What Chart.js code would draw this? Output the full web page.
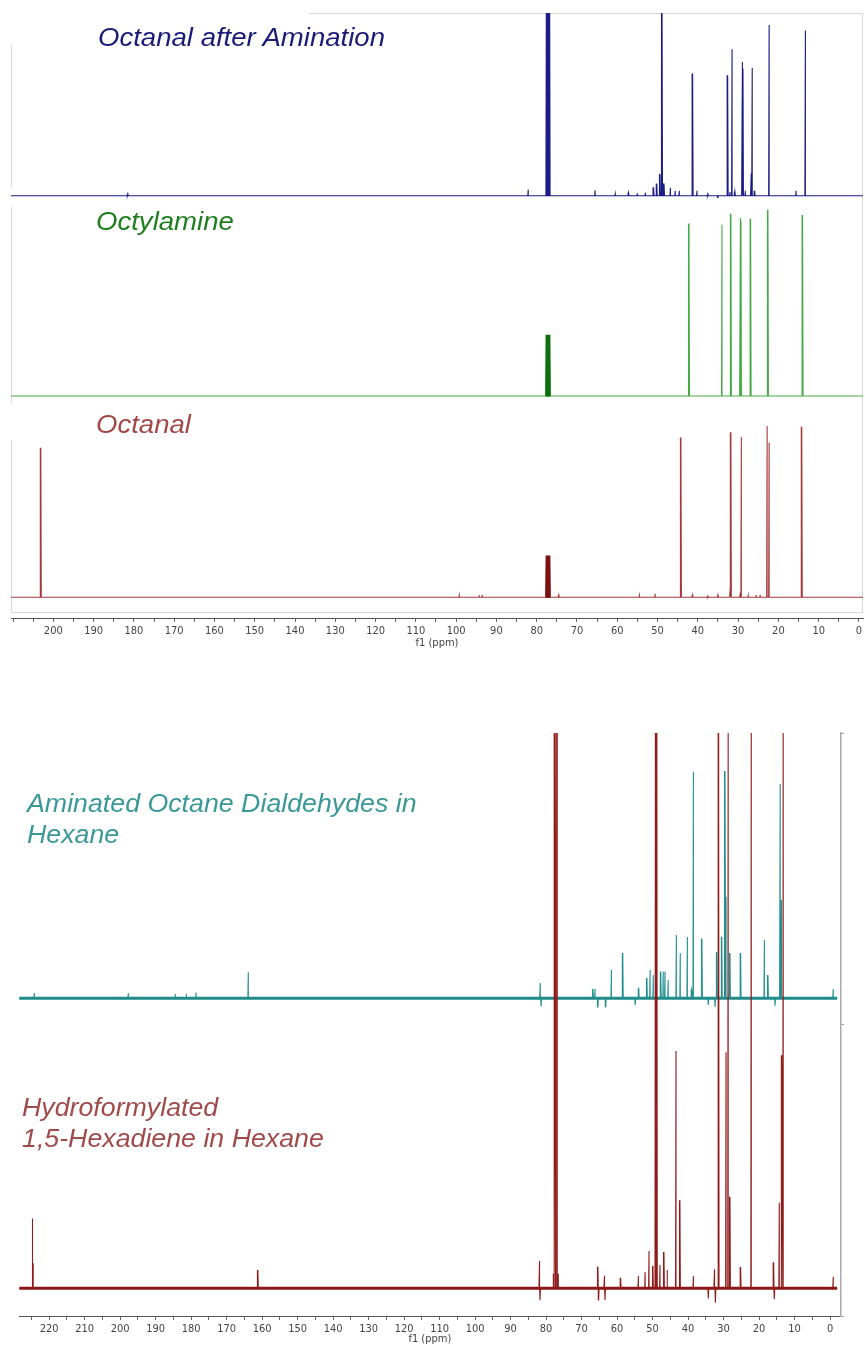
<!DOCTYPE html>
<html><head><meta charset="utf-8">
<script src="https://cdn.jsdelivr.net/npm/chart.js@4"></script>
<style>
html,body{margin:0;padding:0;background:#fff;}
body{width:865px;height:1346px;position:relative;overflow:hidden;}
canvas{position:absolute;left:0;}
.lbl{position:absolute;font-family:"Liberation Sans",Arial,sans-serif;font-style:italic;white-space:nowrap;transform-origin:0 0;line-height:1;}
.t{font-size:26px;transform:scaleX(1.06);}
.b{font-size:25px;transform:scaleX(1.07);}
</style></head><body>
<canvas id="topChart" width="865" height="650" style="top:0px"></canvas>
<canvas id="botChart" width="865" height="646" style="top:700px"></canvas>
<div class="lbl t" style="left:98px;top:23.7px;color:#1a1a78">Octanal after Amination</div>
<div class="lbl t" style="left:95.7px;top:208px;color:#1f7f1f">Octylamine</div>
<div class="lbl t" style="left:95.7px;top:410.7px;color:#a34747">Octanal</div>
<div class="lbl b" style="left:26.5px;top:790.5px;color:#3a9898">Aminated Octane Dialdehydes in</div>
<div class="lbl b" style="left:26.5px;top:822.1px;color:#3a9898">Hexane</div>
<div class="lbl b" style="left:22px;top:1094.8px;color:#a14a4a">Hydroformylated</div>
<div class="lbl b" style="left:22px;top:1126.1px;color:#a14a4a">1,5-Hexadiene in Hexane</div>
<script>
// ---- tick labels (ppm) ----
const topTickLabels = [200,190,180,170,160,150,140,130,120,110,100,90,80,70,60,50,40,30,20,10,0];
const botTickLabels = [220,210,200,190,180,170,160,150,140,130,120,110,100,90,80,70,60,50,40,30,20,10,0];

// ---- series: [ppm, intensity] ----
const octanalAfterAmination = [[181.5,0.3],[82.1,1.0],[77.6,36],[77.2,36],[76.8,36],[65.5,0.9],[60.5,0.3],[57.2,0.5],[55.0,0.4],[53.0,0.5],[51.0,1.4],[50.2,2.0],[49.4,3.6],[48.9,36],[48.4,2.0],[46.8,1.3],[45.6,0.8],[44.6,0.8],[41.3,20.2],[40.2,0.8],[37.5,0.3],[35.0,-0.3],[32.6,19.9],[32.0,0.6],[31.5,24.2],[30.8,0.7],[29.0,22.1],[28.8,21.0],[28.2,0.8],[26.8,3.7],[26.5,21.1],[25.9,0.8],[22.3,28.2],[15.6,0.8],[13.3,27.3]];
const octylamine = [[77.6,10.1],[77.2,10.1],[76.8,10.1],[42.2,28.5],[34.0,28.3],[31.8,30.1],[29.5,29.4],[29.3,29.0],[26.9,29.3],[22.6,30.8],[14.0,29.9]];
const octanal = [[203.1,24.7],[99.2,0.3],[94.2,0.4],[93.5,0.4],[77.6,6.9],[77.2,6.9],[76.8,6.9],[74.5,0.4],[54.5,0.3],[50.6,0.6],[44.2,26.4],[41.3,0.4],[37.5,0.2],[35.0,0.4],[32.0,1.8],[31.8,27.3],[29.5,0.8],[29.2,26.5],[27.5,0.3],[25.5,0.4],[24.5,0.4],[22.8,28.3],[22.3,25.6],[14.2,28.2]];
const aminatedDialdehydes = [[224.2,1.8],[197.7,1.8],[184.4,1.5],[181.3,1.5],[178.6,2.0],[163.9,9.0],[81.7,5.3],[81.4,-2.8],[66.8,3.2],[66.2,3.2],[65.4,-3.0],[63.2,-3.0],[61.6,9.8],[58.4,15.6],[54.9,-2.3],[53.9,3.6],[51.6,7.0],[50.7,9.8],[49.8,8.0],[47.7,9.2],[47.0,9.2],[46.5,9.2],[45.6,6.3],[43.3,21.8],[42.2,15.6],[40.2,21.1],[39.0,2.8],[38.5,78.1],[36.1,20.6],[34.3,-2.3],[32.4,-3.0],[31.9,16.0],[30.5,21.2],[29.6,78.4],[29.3,35.0],[28.2,15.6],[25.2,15.6],[18.5,20.1],[17.5,8.0],[15.5,-2.6],[14.1,73.9],[13.7,33.9],[-0.9,3.2]];
const hydroformylatedHexadiene = [[224.7,24.1],[224.5,8.6],[161.2,6.3],[81.9,9.4],[81.7,-4.1],[77.9,5],[77.6,200],[77.2,200],[76.8,200],[76.5,5],[65.4,7.4],[65.2,-4],[63.6,4.3],[63.4,-4],[59.0,3.6],[54.0,4.2],[52.1,5.6],[51.0,12.9],[49.9,7.7],[49.2,200],[48.8,200],[47.9,8.0],[46.8,12.5],[45.8,6.3],[43.4,81.8],[42.3,30.4],[38.5,4.2],[34.3,-3.5],[32.6,6.6],[32.3,-5.0],[31.4,200],[29.3,81.4],[28.7,200],[28.2,31.6],[25.2,7.3],[22.2,200],[15.9,9.0],[15.7,-3.8],[14.3,29.5],[13.6,80.4],[13.2,200],[-0.9,4.0]];

function trace(peaks, off, lo, hi, w){
  const s = peaks.slice().sort((a,b)=>a[0]-b[0]);
  const d = [{x:lo,y:off}];
  for (const [p,h] of s){ d.push({x:p-w,y:off},{x:p,y:off+h},{x:p+w,y:off}); }
  d.push({x:hi,y:off});
  return d;
}
// solvent (CDCl3) multiplet drawn darker
function solvent(dark){
  return {borderColor:(ctx)=>{const a=ctx.p0.parsed.x,b=ctx.p1.parsed.x;return (a>76.4&&b<78.0)?dark:undefined;},
          borderWidth:(ctx)=>{const a=ctx.p0.parsed.x,b=ctx.p1.parsed.x;return (a>76.4&&b<78.0)?1.6:undefined;}};
}
const tickFont = {family:'"Liberation Sans Narrow","DejaVu Sans Condensed",sans-serif', size:11};

function xAxis(min,max,labels,h){
  return {
    type:'linear', reverse:true, min:min, max:max,
    ticks:{stepSize:5, includeBounds:false, autoSkip:false, maxRotation:0, padding:3, color:'#444', font:tickFont,
      callback:(v)=> labels.includes(v) ? String(v) : ''},
    grid:{drawOnChartArea:false, drawTicks:true, tickLength:4, color:'#666'},
    border:{display:true, color:'#555', width:1},
    title:{display:true, text:'f1 (ppm)', color:'#444', font:{family:tickFont.family,size:11}, padding:{top:0,bottom:0}},
    afterFit:(a)=>{a.height=h; a.paddingLeft=0; a.paddingRight=0;}
  };
}

const framePlugin = {
  id:'frame',
  beforeDatasetsDraw(chart){
    const {ctx, chartArea:c} = chart;
    ctx.save(); ctx.strokeStyle='#d8d8d8'; ctx.lineWidth=1;
    ctx.beginPath();
    ctx.moveTo(309, c.top+0.5); ctx.lineTo(c.right, c.top+0.5);
    ctx.moveTo(c.right-0.5, c.top); ctx.lineTo(c.right-0.5, c.bottom-5);
    ctx.moveTo(c.left, c.bottom-5.5); ctx.lineTo(c.right, c.bottom-5.5);
    [[45,187],[207,403],[440,613]].forEach(([a,b])=>{ctx.moveTo(c.left+0.5,a);ctx.lineTo(c.left+0.5,b);});
    ctx.stroke(); ctx.restore();
  }
};

const TOP_LO=-1, TOP_HI=210.5, W=0.12;
const offNavy=69.8, offGreen=36.7, offRed=3.42;
new Chart(document.getElementById('topChart'), {
  type:'line',
  data:{datasets:[
    {data:trace(octanalAfterAmination,offNavy,TOP_LO,TOP_HI,W), borderColor:'#1b1b85', borderWidth:1.1},
    {data:trace(octylamine,offGreen,TOP_LO,TOP_HI,W), borderColor:'#48a848', borderWidth:1.1, segment:solvent('#0d700d')},
    {data:trace(octanal,offRed,TOP_LO,TOP_HI,W), borderColor:'#a33b3b', borderWidth:1.1, segment:solvent('#7a1212')}
  ]},
  options:{
    responsive:false, animation:false, devicePixelRatio:1,
    layout:{padding:{left:11,right:2,top:13,bottom:0}},
    elements:{point:{radius:0}, line:{tension:0}},
    plugins:{legend:{display:false}, tooltip:{enabled:false}},
    scales:{
      x:xAxis(TOP_LO,TOP_HI,topTickLabels,32),
      y:{display:false, min:0, max:100}
    }
  },
  plugins:[framePlugin]
});

const BOT_LO=-2, BOT_HI=228.4;
const offTeal=158.07, offDark=58.07;
new Chart(document.getElementById('botChart'), {
  type:'line',
  data:{datasets:[
    {data:trace(hydroformylatedHexadiene,offDark,BOT_LO,BOT_HI,W), borderColor:'#8f1a1a', borderWidth:1.1},
    {data:[{x:BOT_LO,y:offDark},{x:BOT_HI,y:offDark}], borderColor:'#8a1515', borderWidth:3},
    {data:trace(aminatedDialdehydes,offTeal,BOT_LO,BOT_HI,W), borderColor:'#228f8f', borderWidth:1.1},
    {data:[{x:BOT_LO,y:offTeal},{x:BOT_HI,y:offTeal}], borderColor:'#1f8a8a', borderWidth:3}
  ]},
  options:{
    responsive:false, animation:false, devicePixelRatio:1,
    layout:{padding:{left:19,right:0,top:33,bottom:0}},
    elements:{point:{radius:0}, line:{tension:0}},
    plugins:{legend:{display:false}, tooltip:{enabled:false}},
    scales:{
      x:xAxis(-3,228.5,botTickLabels,30),
      y:{position:'right', min:48.52, max:249.55,
         ticks:{display:false, stepSize:100, includeBounds:false},
         grid:{drawOnChartArea:false, drawTicks:true, tickLength:3, color:'#888'},
         border:{display:true, color:'#aaa', width:1.5},
         afterFit:(a)=>{a.width=24.3;}}
    }
  }
});
</script>
</body></html>
